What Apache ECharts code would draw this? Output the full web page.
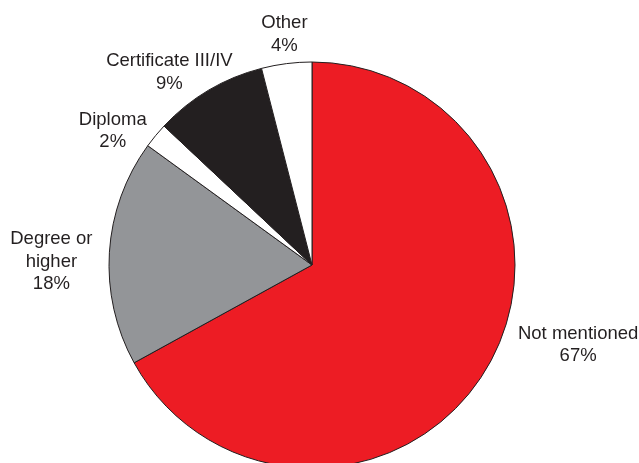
<!DOCTYPE html>
<html>
<head>
<meta charset="utf-8">
<script src="https://cdn.jsdelivr.net/npm/echarts@6/dist/echarts.min.js"></script>
<style>
  html, body { margin: 0; padding: 0; background: #ffffff; }
  #chart { width: 639px; height: 463px; }
</style>
</head>
<body>
<div id="chart"></div>
<script>
// Qualification mentioned (share of ads, %), clockwise from 12 o'clock
const categories = ['Not mentioned', 'Degree or\nhigher', 'Diploma', 'Certificate III/IV', 'Other'];
const shares = [67, 18, 2, 9, 4];
const sliceColors = ['#ED1C24', '#939598', '#FFFFFF', '#231F20', '#FFFFFF'];

// Pie geometry and label placement
const PIE_CX = 312, PIE_CY = 265, PIE_R = 203;
const LABEL_GAP = 10;
const labelNudge = [[31, -40], [-7, 12], [-9, 16], [-2, 10], [2, 3]];

const total = shares.reduce((a, b) => a + b, 0);

// mid-angle of slice i in radians (maths convention, y up), starting at the top going clockwise
function midAngle(i) {
  let before = 0;
  for (let k = 0; k < i; k++) before += shares[k];
  const frac = (before + shares[i] / 2) / total;
  return Math.PI / 2 - frac * 2 * Math.PI;
}

const chart = echarts.init(document.getElementById('chart'), null, { renderer: 'canvas' });

chart.setOption({
  backgroundColor: '#ffffff',
  animation: false,
  series: [{
    type: 'pie',
    center: [PIE_CX, PIE_CY],
    radius: PIE_R,
    startAngle: 90,
    clockwise: true,
    avoidLabelOverlap: false,
    itemStyle: { borderColor: '#231F20', borderWidth: 1 },
    label: {
      show: true,
      position: 'outside',
      formatter: '{b}\n{c}%',
      fontFamily: '"Liberation Sans", Arial, Helvetica, sans-serif',
      fontSize: 18.5,
      lineHeight: 22.5,
      color: '#231F20',
      align: 'center'
    },
    labelLine: { show: false },
    emphasis: { disabled: true },
    labelLayout: function (params) {
      const i = params.dataIndex;
      const a = midAngle(i);
      const ux = Math.cos(a), uy = -Math.sin(a);
      const hw = params.labelRect.width / 2, hh = params.labelRect.height / 2;
      const x = PIE_CX + ux * (PIE_R + LABEL_GAP) + ux * hw + labelNudge[i][0];
      const y = PIE_CY + uy * (PIE_R + LABEL_GAP) + uy * hh + labelNudge[i][1];
      return { x: x, y: y, align: 'center', verticalAlign: 'middle' };
    },
    data: categories.map((name, i) => ({
      name: name,
      value: shares[i],
      itemStyle: { color: sliceColors[i] }
    }))
  }]
});
</script>
</body>
</html>
